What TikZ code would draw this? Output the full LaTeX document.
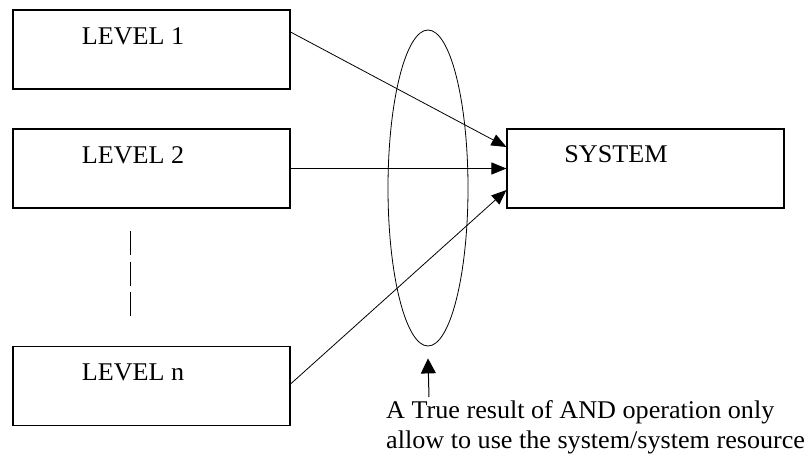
\documentclass[tikz,border=0pt]{standalone}
\usepackage{fontspec}
\setmainfont[FakeStretch=1.025]{Liberation Serif}
\usetikzlibrary{arrows.meta,shapes.geometric}
\begin{document}
\begin{tikzpicture}[x=1pt,y=-1pt,
  box/.style={draw,line width=1.1pt,minimum width=277pt,minimum height=79pt,inner sep=0pt},
  lbl/.style={inner sep=0pt,font=\fontsize{25.5}{30}\selectfont},
  conn/.style={line width=0.8pt,-{Triangle[length=15pt,width=12pt]}}]
\useasboundingbox (0,0) rectangle (809,456);
\fill[white] (0,0) rectangle (809,456);
\node[box] (l1) at (151.5,49.5) {};
\node[box] (l2) at (151.5,168.5) {};
\node[box] (ln) at (151.5,386) {};
\node[box] (sys) at (645.5,168.5) {};
\node[lbl] (l1t) at (133,36) {LEVEL 1};
\node[lbl] (l2t) at (133,155) {LEVEL 2};
\node[lbl] (lnt) at (133,372) {LEVEL n};
\node[lbl] (syst) at (616,154) {SYSTEM};
\node[draw,ellipse,line width=0.8pt,minimum width=80pt,minimum height=316pt,inner sep=0pt] (ell) at (428,188) {};
\coordinate (d1) at (130,231);
\coordinate (d2) at (130,316);
\draw[line width=1pt,dash pattern=on 24pt off 6.5pt] (d1) -- (d2);
\draw[conn] ([yshift=17.5pt]l1.east) -- ([yshift=21.5pt]sys.west);
\draw[conn] (l2.east) -- (sys.west);
\draw[conn] ([yshift=2pt]ln.east) -- ([yshift=-21.5pt]sys.west);
\coordinate (at) at (429,397);
\draw[line width=1pt,-{Triangle[length=15pt,width=15pt]}] (at) -- ([yshift=-12pt]ell.south);
\node[lbl,anchor=north west,align=left] (note) at (386,400) {A True result of AND operation only\\allow to use the system/system resource};
\end{tikzpicture}
\end{document}
